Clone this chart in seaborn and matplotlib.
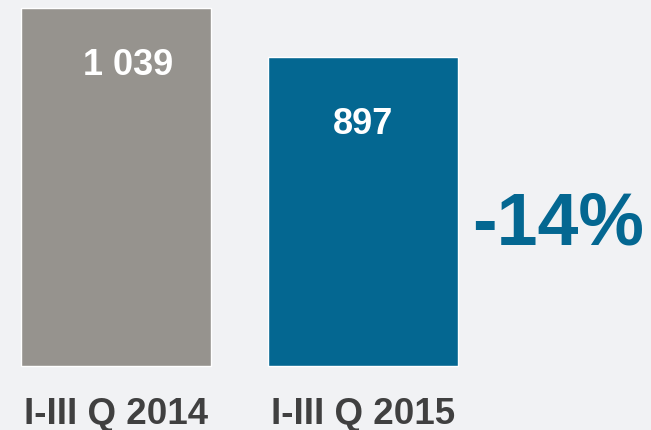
import matplotlib
matplotlib.use('Agg')
import matplotlib.pyplot as plt
import seaborn as sns
import pandas as pd

# Data
periods = ['I-III Q 2014', 'I-III Q 2015']
values = [1039, 897]
bar_colors = ['#96938e', '#046791']
change_label = '-14%'

sns.set_style('white')
plt.rcParams['font.family'] = ['Liberation Sans', 'DejaVu Sans']

df = pd.DataFrame({'period': periods, 'value': values})

fig = plt.figure(figsize=(6.51, 4.31), dpi=100)
fig.patch.set_facecolor('#f1f2f4')
ax = fig.add_axes([0, 0, 1, 1])
ax.set_facecolor('#f1f2f4')

sns.barplot(data=df, x='period', y='value', hue='period', palette=bar_colors,
            saturation=1, width=0.77, edgecolor='white', linewidth=1,
            legend=False, ax=ax)

ax.set_xlim(-0.47, 2.166)
ax.set_ylim(-186, 1065)
ax.axis('off')

# value labels inside bars
def fmt(v):
    return f'{v:,}'.replace(',', ' ')

x_shift = [0.05, 0.0]
offsets = [-163, -192]
for i, v in enumerate(values):
    ax.text(i + x_shift[i], v + offsets[i], fmt(v), ha='center', va='center',
            color='white', fontsize=26, fontweight='bold')

# category labels below bars
for i, p in enumerate(periods):
    ax.text(i, -137, p, ha='center', va='center', color='#404040',
            fontsize=26.5, fontweight='bold')

# change label
ax.text(1.79, 413, change_label, ha='center', va='center', color='#046791',
        fontsize=53, fontweight='bold')

fig.savefig('out.png', dpi=100, facecolor=fig.get_facecolor())
